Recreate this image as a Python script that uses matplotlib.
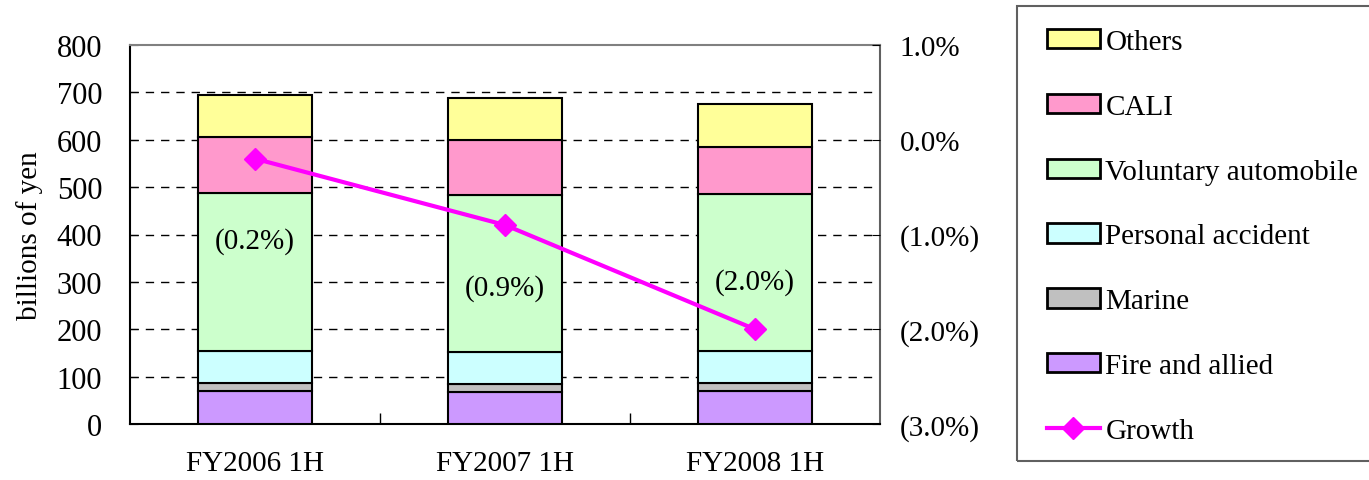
import matplotlib
matplotlib.use("Agg")
import matplotlib.pyplot as plt
from matplotlib.patches import Patch, Rectangle
from matplotlib.lines import Line2D
import numpy as np

plt.rcParams['font.family'] = ['Liberation Serif', 'DejaVu Serif']

# data (billions of yen)
categories = ["FY2006 1H", "FY2007 1H", "FY2008 1H"]
fire = [69, 67, 70]
marine = [17.5, 17.5, 17]
personal = [67.5, 68, 68]
voluntary = [333.5, 331.5, 330]
cali = [119, 115.5, 100.5]
others = [88, 88.5, 90]
growth = [-0.2, -0.9, -2.0]
growth_labels = ["(0.2%)", "(0.9%)", "(2.0%)"]
label_y = [388, 289, 300]

series = [
    ("Fire and allied", fire, "#CC99FF"),
    ("Marine", marine, "#C0C0C0"),
    ("Personal accident", personal, "#CCFFFF"),
    ("Voluntary automobile", voluntary, "#CCFFCC"),
    ("CALI", cali, "#FF99CC"),
    ("Others", others, "#FFFF99"),
]

W, H = 1369, 481
fig = plt.figure(figsize=(W / 100, H / 100), dpi=100)
ax = fig.add_axes([130 / W, 1 - 425 / H, 750 / W, 379 / H])

x = np.arange(len(categories))
bottom = np.zeros(len(categories))
for name, vals, col in series:
    ax.bar(x, vals, bottom=bottom, width=0.456, color=col,
           edgecolor="black", linewidth=1.5, zorder=3)
    bottom += np.array(vals)

for xi, yi, t in zip(x, label_y, growth_labels):
    ax.text(xi, yi, t, ha="center", va="center", fontsize=21, zorder=5)

ax.set_xlim(-0.5, 2.5)
ax.set_ylim(0, 800)
ax.set_yticks(range(0, 801, 100))
ax.set_xticks(x)
ax.set_xticklabels(categories)
ax.set_xticks([0.5, 1.5], minor=True)
ax.tick_params(axis="x", which="major", length=0, labelsize=21, pad=19)
ax.tick_params(axis="x", which="minor", length=8, direction="in", width=1)
ax.tick_params(axis="y", direction="in", length=6, labelsize=22, pad=20)
ax.set_ylabel("billions of yen", fontsize=21, labelpad=10)
for v in range(100, 800, 100):
    ax.axhline(v, color="black", lw=1, ls=(0, (6, 5)), zorder=1)
for s in ["left", "bottom"]:
    ax.spines[s].set_linewidth(1.5)
ax.spines["top"].set_color("#808080")
ax.spines["top"].set_linewidth(1.5)
ax.spines["right"].set_color("#606060")
ax.spines["right"].set_linewidth(1.5)

ax2 = ax.twinx()
ax2.set_ylim(-3.0, 1.0)
ax2.plot(x, growth, color="#FF00FF", lw=3, marker="D", markersize=11, zorder=6)
ax2.set_yticks([1.0, 0.0, -1.0, -2.0, -3.0])
ax2.set_yticklabels(["1.0%", "0.0%", "(1.0%)", "(2.0%)", "(3.0%)"])
ax2.tick_params(axis="y", direction="in", length=6, labelsize=21, pad=14)
for s in ax2.spines.values():
    s.set_visible(False)

# legend
handles = [Patch(facecolor=col, edgecolor="black", linewidth=2, label=name)
           for name, vals, col in reversed(series)]
handles.append(Line2D([], [], color="#FF00FF", lw=3, marker="D",
                      markersize=11, label="Growth"))
fig.patches.append(Rectangle((1017 / W, 1 - 462 / H), 400 / W, 455 / H,
                             transform=fig.transFigure, fill=False,
                             edgecolor="#606060", lw=1.5))
fig.legend(handles=handles, loc="upper left",
           bbox_to_anchor=(1047 / W, 1 - 30 / H), frameon=False,
           fontsize=21, borderpad=0, borderaxespad=0,
           handlelength=1.8, handleheight=0.65, handletextpad=0.2,
           labelspacing=1.33)

fig.savefig("out.png", dpi=100)
